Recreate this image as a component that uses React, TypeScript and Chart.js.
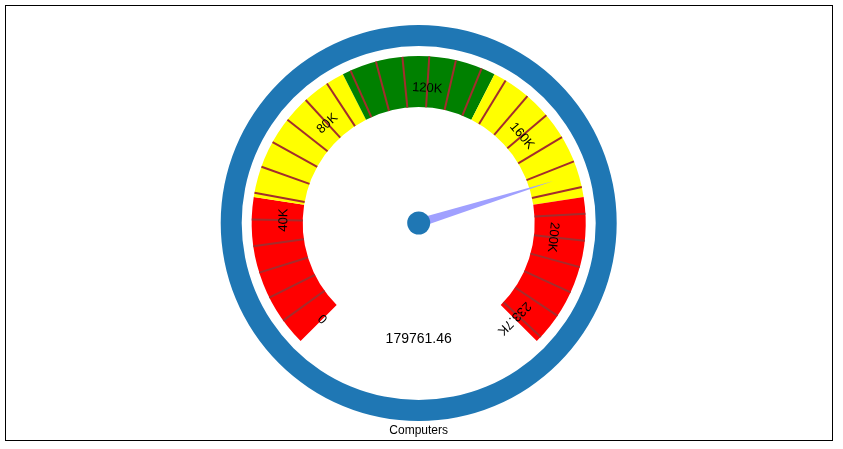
import React, { useEffect, useRef } from "react";
import { Chart, registerables } from "chart.js";

Chart.register(...registerables);

// ---- data ----
const TITLE = "Computers";
const GAUGE_MIN = 0;
const GAUGE_MAX = 233700;
const GAUGE_VALUE = 179761.46;
const VALUE_LABEL = "179761.46";
const BAND_LIMITS = [0, 46740, 93480, 140220, 186960, 233700];
const BAND_COLORS = ["#ff0000", "#ffff00", "#008000", "#ffff00", "#ff0000"];
const MAJOR_TICK_VALUES = [0, 40000, 80000, 120000, 160000, 200000, 233700];
const MAJOR_TICK_LABELS = ["0", "40K", "80K", "120K", "160K", "200K", "233.7K"];
const MINOR_TICK_VALUES = [
  8000, 16000, 24000, 32000, 40000, 48000, 56000, 64000, 72000, 80000,
  88000, 96000, 104000, 112000, 120000, 128000, 136000, 144000, 152000,
  160000, 168000, 176000, 184000, 192000, 200000, 208000, 216000, 224000, 232000,
];

const FONT = '"Liberation Sans", Arial, sans-serif';
const RING_COLOR = "#1f77b4";
const TICK_COLOR = "#a32d2d";
const NEEDLE_COLOR = "#a0a0ff";

const gaugePlugin = {
  id: "gaugeDecor",
  afterDatasetsDraw(chart: any) {
    const ctx = chart.ctx as CanvasRenderingContext2D;
    const meta = chart.getDatasetMeta(2);
    const arcs = meta.data as any[];
    if (!arcs.length) return;
    const first = arcs[0];
    const last = arcs[arcs.length - 1];
    const cx = first.x;
    const cy = first.y;
    const startA = first.startAngle;
    const endA = last.endAngle;
    const rIn = first.innerRadius;
    const rOut = first.outerRadius;
    const ang = (v: number) =>
      startA + ((v - GAUGE_MIN) / (GAUGE_MAX - GAUGE_MIN)) * (endA - startA);

    ctx.save();
    // minor ticks
    ctx.strokeStyle = TICK_COLOR;
    ctx.lineWidth = 2;
    MINOR_TICK_VALUES.forEach((v) => {
      const a = ang(v);
      ctx.beginPath();
      ctx.moveTo(cx + rIn * Math.cos(a), cy + rIn * Math.sin(a));
      ctx.lineTo(cx + rOut * Math.cos(a), cy + rOut * Math.sin(a));
      ctx.stroke();
    });

    // major labels
    ctx.fillStyle = "#000";
    ctx.font = `13px ${FONT}`;
    ctx.textAlign = "center";
    ctx.textBaseline = "middle";
    const rL = 135;
    MAJOR_TICK_VALUES.forEach((v, i) => {
      const a = ang(v);
      ctx.save();
      ctx.translate(cx + rL * Math.cos(a), cy + rL * Math.sin(a));
      ctx.rotate(a + Math.PI / 2);
      ctx.fillText(MAJOR_TICK_LABELS[i], 0, 0);
      ctx.restore();
    });

    // needle
    const na = ang(GAUGE_VALUE);
    const len = 141;
    const hw = 4.5;
    ctx.fillStyle = NEEDLE_COLOR;
    ctx.beginPath();
    ctx.moveTo(cx + hw * Math.cos(na - Math.PI / 2), cy + hw * Math.sin(na - Math.PI / 2));
    ctx.lineTo(cx + len * Math.cos(na), cy + len * Math.sin(na));
    ctx.lineTo(cx + hw * Math.cos(na + Math.PI / 2), cy + hw * Math.sin(na + Math.PI / 2));
    ctx.closePath();
    ctx.fill();

    // hub
    ctx.fillStyle = RING_COLOR;
    ctx.beginPath();
    ctx.arc(cx, cy, 11.5, 0, Math.PI * 2);
    ctx.fill();

    // value text
    ctx.fillStyle = "#000";
    ctx.font = `14px ${FONT}`;
    ctx.fillText(VALUE_LABEL, cx, 339.5);

    // title
    ctx.font = `12px ${FONT}`;
    ctx.fillText(TITLE, cx, 430.5);

    // border
    ctx.strokeStyle = "#000";
    ctx.lineWidth = 1;
    ctx.strokeRect(5.5, 5.5, 827, 435);
    ctx.restore();
  },
};

export default function App() {
  const ref = useRef<HTMLCanvasElement | null>(null);

  useEffect(() => {
    if (!ref.current) return;
    const bandSizes = BAND_LIMITS.slice(1).map((v, i) => v - BAND_LIMITS[i]);
    const chart = new Chart(ref.current, {
      type: "doughnut",
      data: {
        labels: BAND_COLORS.map((_, i) => `band${i}`),
        datasets: [
          {
            data: [1],
            backgroundColor: [RING_COLOR],
            borderWidth: 0,
            weight: 21,
            rotation: 0,
            circumference: 360,
          } as any,
          {
            data: [1],
            backgroundColor: ["rgba(0,0,0,0)"],
            borderWidth: 0,
            weight: 10,
            rotation: 0,
            circumference: 360,
          } as any,
          {
            data: bandSizes,
            backgroundColor: BAND_COLORS,
            borderWidth: 0,
            weight: 51,
            rotation: -135,
            circumference: 270,
          } as any,
        ],
      },
      options: {
        animation: false,
        responsive: false,
        events: [],
        radius: 198,
        cutout: `${(116 / 198) * 100}%`,
        hoverOffset: 0,
        layout: { padding: { left: 0, right: 5.6, top: 0, bottom: 3 } },
        plugins: {
          legend: { display: false },
          tooltip: { enabled: false },
          title: { display: false },
        },
      } as any,
      plugins: [gaugePlugin],
    });
    return () => chart.destroy();
  }, []);

  return (
    <div
      style={{
        position: "absolute",
        left: 0,
        top: 0,
        width: 843,
        height: 449,
        background: "#fff",
      }}
    >
      <canvas ref={ref} width={843} height={449} style={{ display: "block" }} />
    </div>
  );
}
